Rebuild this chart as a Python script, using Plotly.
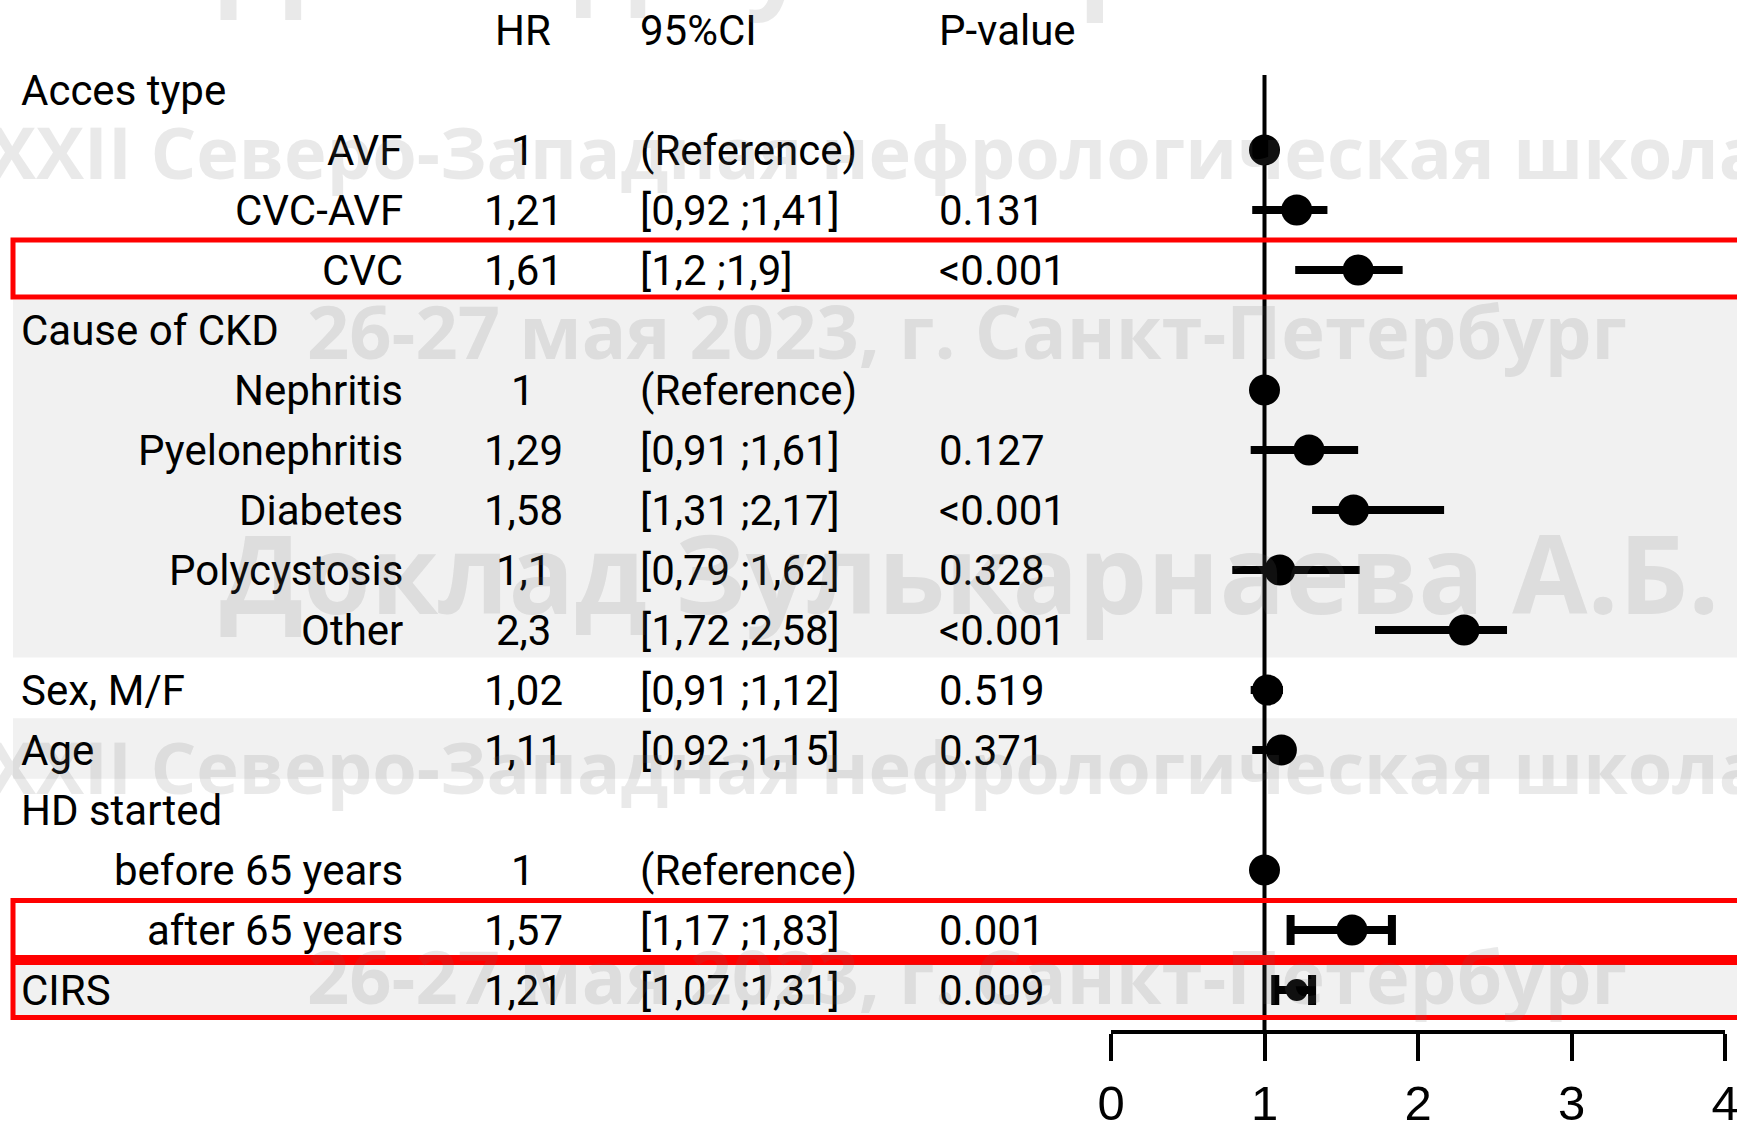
import plotly.graph_objects as go

# ---------------- data ----------------
labels = ["Acces type", "AVF", "CVC-AVF", "CVC", "Cause of CKD", "Nephritis",
          "Pyelonephritis", "Diabetes", "Polycystosis", "Other", "Sex, M/F",
          "Age", "HD started", "before 65 years", "after 65 years", "CIRS"]
is_group = [True, False, False, False, True, False, False, False, False, False,
            True, True, True, False, False, True]
hr = [None, 1, 1.21, 1.61, None, 1, 1.29, 1.58, 1.1, 2.3, 1.02, 1.11,
      None, 1, 1.57, 1.21]
ci_low = [None, None, 0.92, 1.2, None, None, 0.91, 1.31, 0.79, 1.72, 0.91, 0.92,
          None, None, 1.17, 1.07]
ci_high = [None, None, 1.41, 1.9, None, None, 1.61, 2.17, 1.62, 2.58, 1.12, 1.15,
           None, None, 1.83, 1.31]
p_values = ["", "", "0.131", "<0.001", "", "", "0.127", "<0.001", "0.328",
            "<0.001", "0.519", "0.371", "", "", "0.001", "0.009"]
header = ["HR", "95%CI", "P-value"]
x_ticks = [0, 1, 2, 3, 4]
highlighted = ["CVC", "after 65 years", "CIRS"]
watermark_lines = ["XXII Северо-Западная нефрологическая школа",
                   "26-27 мая 2023, г. Санкт-Петербург",
                   "Доклад Зулькарнаева А.Б."]

# ---------------- layout constants (pixels) ----------------
W, H = 1737, 1121
ROW0, ROW_H = 30, 60          # centre of header row, row pitch
AXIS_Y = 1030                 # pixel row of the x-axis line
X0_PX, X4_PX = 1111, 1725     # pixel position of HR = 0 and HR = 4
TXT_FONT = "Roboto, Liberation Sans, sans-serif"
TXT_SIZE = 42
COL_LABEL_L = 19
COL_LABEL_R = 405
COL_HR = 523
COL_CI = 638
COL_P = 937
CAPPED = {"after 65 years", "CIRS"}
BAND_GRAY = "#f1f1f1"


def px(x):
    return x / W


def fmt(v):
    return str(v).replace(".", ",")


rows = list(range(1, len(labels) + 1))
y_bottom = (AXIS_Y - ROW0) / ROW_H
y_top = -ROW0 / ROW_H


def row_of(pxy):
    return (pxy - ROW0) / ROW_H


fig = go.Figure()

# point estimates with confidence intervals
for capped in (False, True):
    xs, ys, ep, em, sizes = [], [], [], [], []
    for lab, r, h, lo, hi in zip(labels, rows, hr, ci_low, ci_high):
        if h is None or (lab in CAPPED) != capped:
            continue
        xs.append(h)
        ys.append(r)
        ep.append(0 if hi is None else hi - h)
        em.append(0 if lo is None else h - lo)
        sizes.append(22 if lab == "CIRS" else 31)
    fig.add_trace(go.Scatter(
        x=xs, y=ys, mode="markers",
        marker=dict(color="black", size=sizes, opacity=1, line=dict(width=0)),
        error_x=dict(type="data", array=ep, arrayminus=em, symmetric=False,
                     color="black", thickness=8, width=15 if capped else 0),
        hoverinfo="skip", showlegend=False,
    ))

shapes = []
# shaded bands behind grouped rows
for a, b in [(4.5, 10.46), (11.47, 12.48), (15.52, 16.48)]:
    shapes.append(dict(type="rect", xref="paper", yref="y", x0=px(13), x1=1.02,
                       y0=a, y1=b, fillcolor=BAND_GRAY, line=dict(width=0),
                       layer="below"))
# reference line at HR = 1
shapes.append(dict(type="line", xref="x", yref="y", x0=1, x1=1,
                   y0=row_of(75), y1=y_bottom,
                   line=dict(color="black", width=4), layer="below"))
# red frames around the highlighted rows
frame_bounds = {"CVC": (3.5, 4.45), "after 65 years": (14.51, 15.46),
                "CIRS": (15.54, 16.46)}
for lab in highlighted:
    a, b = frame_bounds[lab]
    shapes.append(dict(type="rect", xref="paper", yref="y", x0=px(13), x1=1.02,
                       y0=a, y1=b, line=dict(color="#ff0000", width=5),
                       fillcolor="rgba(0,0,0,0)", layer="above"))

ann = []
tfont = dict(family=TXT_FONT, size=TXT_SIZE, color="black")


def text(x, y, s, anchor, font=tfont):
    ann.append(dict(x=px(x), y=y, xref="paper", yref="y", text=s,
                    showarrow=False, xanchor=anchor, yanchor="middle",
                    font=font))


# column headers
text(COL_HR, 0, header[0], "center")
text(COL_CI, 0, header[1], "left")
text(COL_P, 0, header[2], "left")

for lab, grp, r, h, lo, hi, p in zip(labels, is_group, rows, hr, ci_low,
                                     ci_high, p_values):
    if grp:
        text(COL_LABEL_L, r, lab, "left")
    else:
        text(COL_LABEL_R, r, lab, "right")
    if h is not None:
        text(COL_HR, r, fmt(h), "center")
        ci = "(Reference)" if lo is None else f"[{fmt(lo)} ;{fmt(hi)}]"
        text(COL_CI, r, ci, "left")
    if p:
        text(COL_P, r, p, "left")

# faint event watermark
wm_col = "rgba(110,110,110,0.15)"
wm_a = dict(family="Open Sans", size=72, color=wm_col, weight=700)
wm_b = dict(family="Open Sans", size=74, color=wm_col, weight=700)
wm_c = dict(family="Open Sans", size=109, color=wm_col, weight=700)
for txt, xl, yc, f in [(watermark_lines[0], -14, 151, wm_a),
                       (watermark_lines[0], -14, 766, wm_a),
                       (watermark_lines[1], 305, 330, wm_b),
                       (watermark_lines[1], 305, 975, wm_b),
                       (watermark_lines[2], 218, 571, wm_c),
                       (watermark_lines[2], 218, -46, wm_c)]:
    ann.append(dict(x=px(xl), y=1 - yc / H, xref="paper", yref="paper",
                    text=txt, showarrow=False, xanchor="left",
                    yanchor="middle", font=f))

fig.update_layout(
    width=W, height=H, autosize=False,
    margin=dict(l=0, r=0, t=0, b=0, autoexpand=False),
    paper_bgcolor="white", plot_bgcolor="rgba(0,0,0,0)",
    shapes=shapes, annotations=ann, showlegend=False,
    xaxis=dict(domain=[px(X0_PX), px(X4_PX)], range=[0, 4],
               tickvals=x_ticks, ticktext=[str(t) for t in x_ticks],
               showgrid=False, zeroline=False, showline=True,
               linecolor="black", linewidth=4, ticks="outside", ticklen=27,
               tickwidth=4, tickcolor="black", ticklabeloverflow="allow",
               automargin=False,
               tickfont=dict(family="Liberation Sans, Arial", size=49,
                             color="black"),
               fixedrange=True),
    yaxis=dict(domain=[1 - AXIS_Y / H, 1], range=[y_bottom, y_top],
               visible=False, automargin=False, fixedrange=True),
)

fig.write_html("out.html")
